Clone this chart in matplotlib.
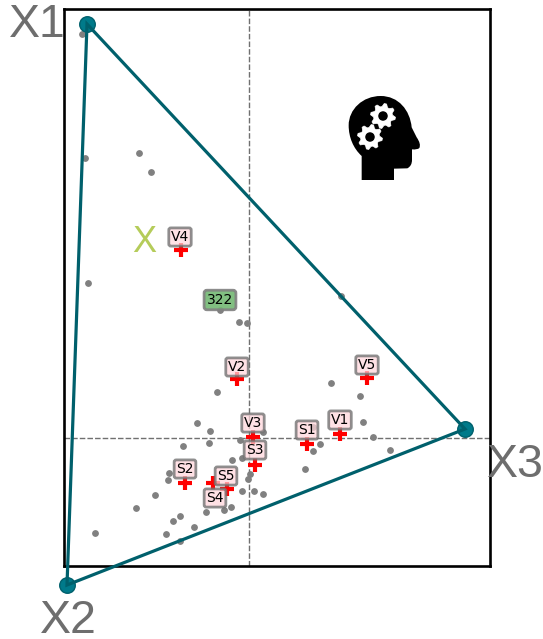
import matplotlib
matplotlib.use('Agg')
import matplotlib.pyplot as plt
import numpy as np
from matplotlib.path import Path
from matplotlib.patches import PathPatch, Circle, Polygon

# individuals (gray dots)
ind_x = [-1.67, -1.54, -1.61, -1.64, -1.10, -0.98, -0.29, -0.10, -0.02, -0.32, 0.92, 0.82, 1.11, 1.14,
         1.24, 1.41, 0.71, 0.64, 0.56, 0.64, -0.52, -0.39, -0.66, -0.40, -0.09, 0.14, -0.17, -0.07,
         -0.80, -0.81, -0.94, -1.13, -0.69, -0.76, -0.83, -0.55, -0.69, -0.43, -0.25, -0.18, -0.07,
         0.05, 0.14, -0.01, 0.01]
ind_y = [4.04, -0.95, 1.55, 2.80, 2.85, 2.66, 1.28, 1.16, 1.15, 0.46, 1.42, 0.55, 0.42, 0.16,
         0.01, -0.12, -0.06, -0.13, -0.31, 0.11, 0.15, 0.07, -0.08, -0.05, -0.02, 0.06, -0.22, -0.20,
         -0.35, -0.42, -0.57, -0.70, -0.78, -0.83, -0.96, -0.89, -1.03, -0.74, -0.72, -0.69, -0.53,
         -0.53, -0.56, -0.41, -0.36]

# variables (red crosses)
var_names = ['V1', 'V2', 'V3', 'V4', 'V5', 'S1', 'S2', 'S3', 'S4', 'S5']
var_x = [0.91, -0.12, 0.04, -0.68, 1.18, 0.58, -0.64, 0.06, -0.36, -0.22]
var_y = [0.04, 0.59, 0.01, 1.88, 0.60, -0.06, -0.45, -0.27, -0.45, -0.51]
label_dy = [0.14, 0.12, 0.14, 0.13, 0.13, 0.14, 0.14, 0.15, -0.15, 0.13]
label_dx = [0, 0, 0, -0.01, 0, 0, 0, 0, 0.02, -0.01]

# archetypes
arch_names = ['X1', 'X2', 'X3']
arch_x = [-1.62, -1.82, 2.16]
arch_y = [4.14, -1.47, 0.09]

highlight_x, highlight_y = -0.29, 1.28
x_label_x, x_label_y = -1.045, 1.96

teal = '#00606c'
fig = plt.figure(figsize=(5.43, 6.39), dpi=100)
ax = fig.add_axes([63.5 / 543, (639 - 566) / 639, 426.5 / 543, 557 / 639])
ax.set_xlim(-1.855, 2.41)
ax.set_ylim(-1.28, 4.29)
ax.set_xticks([])
ax.set_yticks([])
for s in ax.spines.values():
    s.set_linewidth(1.9)

ax.axhline(0, color='#707070', ls=(0, (4, 1.5)), lw=1.0, zorder=1)
ax.axvline(0, color='#707070', ls=(0, (4, 1.5)), lw=1.0, zorder=1)

ax.scatter(ind_x, ind_y, s=15, color='#808080', zorder=2, clip_on=False)
ax.plot(var_x, var_y, ls='none', marker='+', ms=10.5, mew=3, color='red', zorder=3)

box = dict(boxstyle='round,pad=0.15', fc=(1, 0.84, 0.86, 0.72), ec=(0.45, 0.45, 0.45, 0.8), lw=2)
for n, x, y, dx, dy in zip(var_names, var_x, var_y, label_dx, label_dy):
    ax.text(x + dx, y + dy, n, ha='center', va='center', fontsize=10, bbox=box, zorder=4)

ax.text(highlight_x, highlight_y + 0.10, '322', ha='center', va='center', fontsize=10, zorder=4,
        bbox=dict(boxstyle='round,pad=0.2', fc=(0.45, 0.72, 0.45, 0.9), ec=(0.5, 0.5, 0.5, 0.9), lw=2))
ax.text(x_label_x, x_label_y, 'X', ha='center', va='center', fontsize=26, color='#b5cc5a',
        family='Liberation Sans', zorder=4)

ax.add_patch(Polygon(np.column_stack([arch_x, arch_y]), closed=True, fill=False, ec=teal, lw=2.3,
                     clip_on=False, zorder=6))
ax.scatter(arch_x, arch_y, s=125, color='#007a8a', edgecolor=teal, linewidth=1, clip_on=False, zorder=5)

label_pos = [(-2.12, 4.13), (-1.81, -1.83), (2.66, -0.27)]
for n, (x, y) in zip(arch_names, label_pos):
    ax.text(x, y, n, ha='center', va='center', fontsize=33.5, color='#6e6e6e',
            family='Liberation Sans', clip_on=False, zorder=7)

# head icon, drawn on a pixel overlay
ov = fig.add_axes([0, 0, 1, 1], facecolor='none')
ov.set_xlim(0, 543)
ov.set_ylim(639, 0)
ov.axis('off')


def px(p):
    return (320 + p[0] / 3, 80 + p[1] / 3)


verts = [(125, 300), (125, 228), (100, 205), (86, 172), (86, 136), (86, 88), (128, 48), (182, 48),
         (235, 48), (270, 90), (275, 142), (290, 172), (304, 192), (298, 204), (292, 210), (276, 208),
         (276, 240), (276, 258), (262, 265), (222, 266), (222, 300), (125, 300)]
codes = [Path.MOVETO, Path.LINETO, Path.CURVE4, Path.CURVE4, Path.CURVE4, Path.CURVE4, Path.CURVE4, Path.CURVE4,
         Path.CURVE4, Path.CURVE4, Path.CURVE4, Path.LINETO, Path.CURVE3, Path.CURVE3, Path.CURVE3, Path.CURVE3,
         Path.LINETO, Path.CURVE3, Path.CURVE3, Path.LINETO, Path.LINETO, Path.CLOSEPOLY]
ov.add_patch(PathPatch(Path([px(v) for v in verts], codes), fc='black', ec='none'))


def gear(cx, cy, r_out, r_in, teeth=8):
    ang = np.linspace(0, 2 * np.pi, teeth * 4, endpoint=False) + np.pi / teeth / 4
    rad = np.tile([r_out, r_out, r_in, r_in], teeth)
    pts = np.column_stack([cx + rad * np.cos(ang), cy + rad * np.sin(ang)])
    ov.add_patch(Polygon(pts, closed=True, fc='white', ec='white', lw=0.5, joinstyle='round'))
    ov.add_patch(Circle((cx, cy), r_in * 0.5, fc='black', ec='none'))


gear(383, 116, 12.5, 9.5)
gear(370, 137, 12.5, 9.5)

fig.savefig('out.png', dpi=100)
